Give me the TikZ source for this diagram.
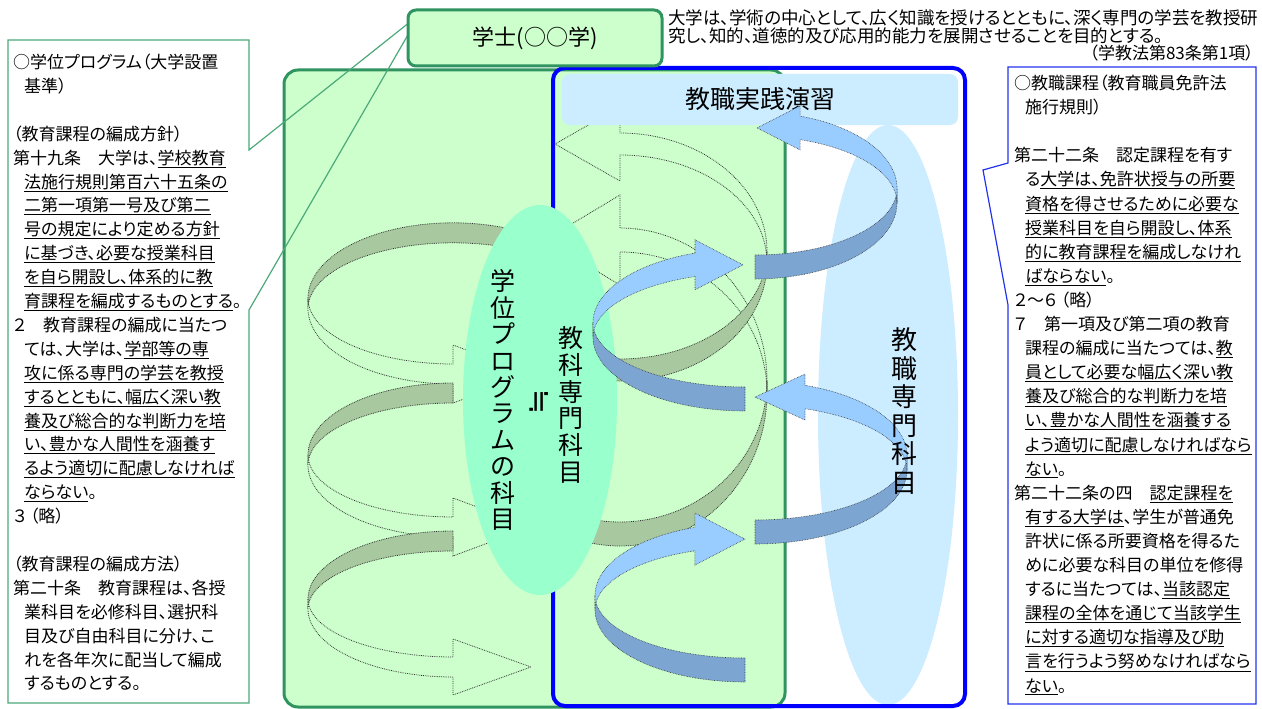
\documentclass[tikz,border=0pt]{standalone}
\usepackage{fontspec}
\newfontfamily\jp[RawFeature=+palt]{Noto Sans CJK JP}
\newfontfamily\jpm{Noto Sans CJK JP}
\newfontfamily\symf{DejaVu Sans}
\definecolor{gfill}{HTML}{CCFFCC}
\definecolor{gborder}{HTML}{2F9460}
\definecolor{mint}{HTML}{99FFCC}
\definecolor{lblue}{HTML}{CCECFF}
\definecolor{bline}{HTML}{0000FF}
\definecolor{arrlight}{HTML}{99CCFF}
\definecolor{arrdark}{HTML}{7CA5D1}
\definecolor{gshade}{HTML}{A8C8A0}
\definecolor{dotc}{HTML}{333333}
\definecolor{calloutg}{HTML}{4CA97A}
\definecolor{calloutb}{HTML}{2233EE}
\def\rh{10}\def\rk{0.5}
% ribbon segment: style, cx, cy, a, b, t1, t2
\newcommand{\rib}[7]{%
  \path[#1] plot[domain=#6:#7, samples=50, variable=\t] ({#2+#4*cos(\t)}, {#3+#5*sin(\t)-\rh*(\rk+(1-\rk)*abs(sin(\t)))})
   -- plot[domain=#7:#6, samples=50, variable=\t] ({#2+#4*cos(\t)}, {#3+#5*sin(\t)+\rh*(\rk+(1-\rk)*abs(sin(\t)))}) -- cycle;}
% ribbon segment ending in an arrowhead: style, cx, cy, a, b, t1, t2, half barb, length (signed)
\newcommand{\ribarrow}[9]{%
  \pgfmathsetmacro{\xb}{#2+#4*cos(#7)}%
  \pgfmathsetmacro{\yb}{#3+#5*sin(#7)}%
  \pgfmathsetmacro{\ya}{\yb-#8}%
  \pgfmathsetmacro{\yc}{\yb+#8}%
  \pgfmathsetmacro{\xt}{\xb+(#9)}%
  \path[#1] plot[domain=#6:#7, samples=50, variable=\t] ({#2+#4*cos(\t)}, {#3+#5*sin(\t)-\rh*(\rk+(1-\rk)*abs(sin(\t)))})
   -- ({\xb}, {\ya}) -- ({\xt}, {\yb}) -- ({\xb}, {\yc})
   -- plot[domain=#7:#6, samples=50, variable=\t] ({#2+#4*cos(\t)}, {#3+#5*sin(\t)+\rh*(\rk+(1-\rk)*abs(sin(\t)))}) -- cycle;}
\begin{document}
\begin{tikzpicture}[x=1pt,y=-1pt,
  gback/.style={fill=gshade, draw=dotc, densely dotted, line width=0.8pt},
  gfront/.style={fill=gfill, draw=dotc, densely dotted, line width=0.8pt},
  bdark/.style={fill=arrdark, draw=dotc, densely dotted, line width=0.6pt},
  blight/.style={fill=arrlight, draw=dotc, densely dotted, line width=0.6pt},
  boxtext/.style={anchor=base west, inner sep=0pt, font=\jp\fontsize{17}{20}\selectfont},
  vtext/.style={align=center, inner sep=0pt}]
\useasboundingbox (0,0) rectangle (1262,709);
\fill[white] (0,0) rectangle (1262,709);
% big green box
\draw[draw=gborder, line width=3pt, fill=gfill, rounded corners=14pt] (284,70) rectangle (785,707);
% tall light-blue ellipse
\fill[lblue] (888,415) ellipse [x radius=70, y radius=290];
% blue box
\draw[draw=bline, line width=4pt, rounded corners=12pt] (553,68) rectangle (965,706);
% green spiral ribbons, right side
\def\rh{12}\def\rk{0.5}
\ribarrow{gfront}{620}{387}{147}{147}{360}{270}{45}{-75}
\rib{gback}{620}{387}{147}{147}{0}{105}
\def\rh{11}
\ribarrow{gfront}{620}{257}{147}{113}{360}{270}{37}{-65}
\rib{gback}{620}{257}{147}{113}{0}{100}
% green spiral ribbons, left side
\def\rh{10}
\rib{gback}{453}{303.4}{145}{70.6}{310}{180}
\ribarrow{gfront}{453}{303.4}{145}{70.6}{180}{90}{29}{78}
\rib{gback}{453}{460}{145}{67}{270}{180}
\ribarrow{gfront}{453}{460}{145}{67}{180}{90}{29}{78}
\rib{gback}{453}{604}{145}{63}{270}{180}
\ribarrow{gfront}{453}{604}{145}{63}{180}{90}{28}{78}
% practice box
\node[fill=lblue, rounded corners=8pt, minimum width=396pt, minimum height=51pt, inner sep=0pt,
  font=\jpm\fontsize{25}{25}\selectfont] (jissen) at (760,99.5) {教職実践演習};
% green ellipse
\fill[mint] (540,400) ellipse [x radius=77, y radius=195];
\node[vtext, font=\jpm\fontsize{25}{26.4}\selectfont] (gakui) at (503,400)
  {学\\位\\プ\\ロ\\グ\\ラ\\ム\\の\\科\\目};
\node[vtext, font=\jpm\fontsize{25}{26.8}\selectfont] (kyouka) at (571,405)
  {教\\科\\専\\門\\科\\目};
\node[inner sep=0pt, rotate=90, font=\symf\fontsize{30}{30}\selectfont] (approx) at (539,402) {≒};
% blue spiral ribbons
\def\rh{12}\def\rk{0.6}
\rib{bdark}{755}{195.6}{142}{71.4}{90}{0}
\ribarrow{blight}{755}{195.6}{142}{71.4}{0}{-71.5}{22}{-43}
\rib{bdark}{745}{330}{152}{69}{90}{180}
\ribarrow{blight}{745}{330}{152}{69}{180}{250.8}{25}{48}
\rib{bdark}{755}{462.6}{152}{69.4}{90}{0}
\ribarrow{blight}{755}{462.6}{152}{69.4}{0}{-70.8}{23}{-50}
\rib{bdark}{745}{602.6}{150}{67.4}{90}{180}
\ribarrow{blight}{745}{602.6}{150}{67.4}{180}{250.5}{26}{50}
\node[vtext, font=\jpm\fontsize{26}{28.5}\selectfont] (kyoushoku) at (904,411)
  {教\\職\\専\\門\\科\\目};
% left callout
\coordinate (ltip) at (420,14);
\draw[calloutg, line width=1.2pt, line join=miter] (8,40) -- (249,40) -- (249,150) -- (ltip) -- (249,310) -- (249,703) -- (8,703) -- cycle;
\foreach \dx/\txt [count=\i from 0] in {
  0/{○学位プログラム（大学設置},
  11/{基準）},
  0/{},
  0/{（教育課程の編成方針）},
  0/{第十九条　大学は、\underline{学校教育}},
  11/{\underline{法施行規則第百六十五条の}},
  11/{\underline{二第一項第一号及び第二}},
  11/{\underline{号の規定により定める方針}},
  11/{\underline{に基づき、必要な授業科目}},
  11/{\underline{を自ら開設し、体系的に教}},
  11/{\underline{育課程を編成するものとする}。},
  0/{２　教育課程の編成に当たつ},
  11/{ては、大学は、\underline{学部等の専}},
  11/{\underline{攻に係る専門の学芸を教授}},
  11/{\underline{するとともに、幅広く深い教}},
  11/{\underline{養及び総合的な判断力を培}},
  11/{\underline{い、豊かな人間性を涵養す}},
  11/{\underline{るよう適切に配慮しなければ}},
  11/{\underline{ならない}。},
  0/{３ （略）},
  0/{},
  0/{（教育課程の編成方法）},
  0/{第二十条　教育課程は、各授},
  11/{業科目を必修科目、選択科},
  11/{目及び自由科目に分け、こ},
  11/{れを各年次に配当して編成},
  11/{するものとする。}}
  {\node[boxtext] (LT\i) at ({13+\dx},{68.5+23.9*\i}) {\txt};}
% right callout
\coordinate (rtip) at (983,170);
\draw[calloutb, line width=1.2pt, line join=miter] (1008,67) -- (1256,67) -- (1256,704) -- (1008,704) -- (1008,305) -- (rtip) -- (1008,163) -- cycle;
\foreach \dx/\txt [count=\i from 0] in {
  0/{○教職課程（教育職員免許法},
  11/{施行規則）},
  0/{},
  0/{第二十二条　認定課程を有す},
  11/{る\underline{大学は、免許状授与の所要}},
  11/{\underline{資格を得させるために必要な}},
  11/{\underline{授業科目を自ら開設し、体系}},
  11/{\underline{的に教育課程を編成しなけれ}},
  11/{\underline{ばならない}。},
  0/{２～６ （略）},
  0/{７　第一項及び第二項の教育},
  11/{課程の編成に当たつては、\underline{教}},
  11/{\underline{員として必要な幅広く深い教}},
  11/{\underline{養及び総合的な判断力を培}},
  11/{\underline{い、豊かな人間性を涵養する}},
  11/{\underline{よう適切に配慮しなければなら}},
  11/{\underline{ない}。},
  0/{第二十二条の四　\underline{認定課程を}},
  11/{\underline{有する大学は}、学生が普通免},
  11/{許状に係る所要資格を得るた},
  11/{めに必要な科目の単位を修得},
  11/{するに当たつては、\underline{当該認定}},
  11/{\underline{課程の全体を通じて当該学生}},
  11/{\underline{に対する適切な指導及び助}},
  11/{\underline{言を行うよう努めなければなら}},
  11/{\underline{ない}。}}
  {\node[boxtext] (RT\i) at ({1014+\dx},{89.5+24.1*\i}) {\txt};}
% degree box
\node[draw=gborder, line width=3pt, fill=gfill, rounded corners=8pt, minimum width=254pt, minimum height=56pt,
  inner sep=0pt, font=\jpm\fontsize{22}{22}\selectfont] (gakushi) at (535,38) {学士(○○学)};
% top text
\node[anchor=base west, inner sep=0pt, font=\jp\fontsize{17.5}{18}\selectfont] (top1) at (668,25)
  {大学は、学術の中心として、広く知識を授けるとともに、深く専門の学芸を教授研};
\node[anchor=base west, inner sep=0pt, font=\jp\fontsize{17.5}{18}\selectfont] (top2) at (668,43)
  {究し、知的、道徳的及び応用的能力を展開させることを目的とする。};
\node[anchor=base east, inner sep=0pt, font=\jp\fontsize{17}{18}\selectfont] (top3) at (1254,59.5)
  {（学教法第83条第1項）};
\end{tikzpicture}
\end{document}
